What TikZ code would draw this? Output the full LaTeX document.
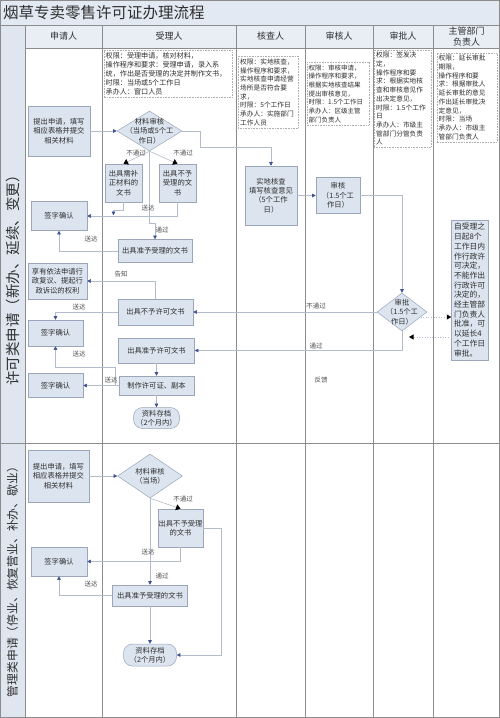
\documentclass[tikz,border=0pt]{standalone}
\usepackage{fontspec}
\setmainfont{Noto Sans CJK SC}
\usetikzlibrary{arrows.meta,positioning,calc,shapes.geometric}
\definecolor{lcink}{HTML}{2E2E2E}
\definecolor{lcgrid}{HTML}{8C8C8C}
\definecolor{lcband}{HTML}{E3E9F2}
\definecolor{lchead}{HTML}{E9EEF5}
\definecolor{lcside}{HTML}{DFE6F0}
\definecolor{lcbox}{HTML}{DCE4EF}
\definecolor{lcedge}{HTML}{9BA6BA}
\definecolor{lcwire}{HTML}{B3BCCB}
\definecolor{lctip}{HTML}{3F5291}
\tikzset{
  % lane grid of the sheet
  lc lane/.style={draw=lcgrid, line width=0.7pt},
  % ordinary hand-over arrows
  lc flow/.style={
    draw=lcwire, line width=0.6pt,
    -{Triangle[length=3.6pt,width=3.6pt,color=lctip]},
  },
  % refusal branches out of a check
  lc reject/.style={
    draw=lcwire, line width=0.6pt,
    -{Triangle[length=4.5pt,width=6pt,color=black]},
  },
  % asking the head of department and back
  lc ask/.style={
    draw=lcwire, line width=0.6pt, dotted,
    -{Triangle[length=4.5pt,width=5pt,color=black]},
  },
  % process steps
  lc proc/.style={
    draw=lcedge, line width=0.5pt, fill=lcbox, text=lcink,
    align=center, inner sep=0.5pt, font=\fontsize{7.3}{9.3}\selectfont,
  },
  lc store/.style={lc proc, rounded corners=9pt},
  lc check/.style={
    diamond, draw=lcedge, line width=0.5pt, fill=lcbox, inner sep=0pt,
  },
  lc inner/.style={text=lcink, align=center, inner sep=0pt,
    font=\fontsize{7.3}{9.3}\selectfont},
  % duty notes on top of each lane
  lc duty/.style={
    draw=lcgrid!70, line width=0.4pt, dash pattern=on 0.8pt off 0.8pt,
    fill=white, text=lcink, align=left, inner sep=2pt, anchor=north west,
    font=\fontsize{6.7}{8.7}\selectfont,
  },
  % small words on the arrows
  lc word/.style={text=lcink!85, inner sep=0.5pt,
    font=\fontsize{6.5}{8}\selectfont},
  lc hdr/.style={text=lcink, align=center,
    font=\fontsize{9}{11}\selectfont},
}

\begin{document}
\begin{tikzpicture}[x=1pt,y=-1pt]
  \useasboundingbox (0,0) rectangle (500,718);

  % ---- sheet, title and lanes ------------------------------------------------
  \fill[lcband] (0,0) rectangle (500,25);
  \fill[lchead] (25,25) rectangle (500,48);
  \fill[lcside] (0,25) rectangle (25,718);
  \draw[lc lane] (0.35,0.35) rectangle (499.65,717.65);
  \draw[lc lane] (0,25) -- (500,25);
  \draw[lc lane] (25,48) -- (500,48);
  \draw[lc lane] (0,443) -- (500,443);
  \foreach \x in {25,102,236,305,373,433}
    \draw[lc lane] (\x,25) -- (\x,718);

  \node[text=lcink,font=\fontsize{15.5}{18}\selectfont,anchor=west,inner sep=0pt]
    (title) at (3,12.5) {烟草专卖零售许可证办理流程};

  \foreach \x/\t [count=\i] in {63.5/申请人,169/受理人,270.5/核查人,
      339/审核人,403/审批人,466.5/{主管部门\\负责人}}
    \node[lc hdr] (hdr\i) at (\x,36.5) {\t};

  \node[text=lcink,font=\fontsize{14.5}{16}\selectfont,rotate=90,inner sep=0pt]
    (secPermit) at (12.5,277) {许可类申请（新办、延续、变更）};
  \node[text=lcink,font=\fontsize{11.8}{14}\selectfont,rotate=90,inner sep=0pt]
    (secManage) at (12.5,579) {管理类申请（停业、恢复营业、补办、歇业）};

  % ---- duties of each role ---------------------------------------------------
  \node[lc duty, text width=124pt, minimum height=45pt,
        font=\fontsize{7.1}{9.2}\selectfont] (dutyAccept) at (103.5,50)
    {权限：受理申请，核对材料，\\操作程序和要求：受理申请，录入系\\
     统，作出是否受理的决定并制作文书，\\时限：当场或5个工作日\\承办人：窗口人员};
  \node[lc duty, text width=56pt, minimum height=72pt] (dutyCheck) at (238,56)
    {权限：实地核查，\\操作程序和要求，\\实地核查申请经营\\场所是否符合要\\求，\\
     时限：5个工作日\\承办人：实施部门\\工作人员};
  \node[lc duty, text width=58pt, minimum height=63pt,
        font=\fontsize{6.5}{8.7}\selectfont] (dutyReview) at (306.5,62)
    {权限：审核申请，\\操作程序和要求，\\根据实地核查结果\\提出审核意见，\\
     时限：1.5个工作日\\承办人：区级主管\\部门负责人};
  \node[lc duty, text width=53pt, minimum height=97pt] (dutyApprove) at (374,50)
    {权限：签发决\\定，\\操作程序和要\\求：根据实地核\\查和审核意见作\\出决定意见，\\
     时限：1.5个工作\\日\\承办人：市级主\\管部门分管负责\\人};
  \node[lc duty, text width=56pt, minimum height=87pt] (dutyHead) at (436.5,53)
    {权限：延长审批\\期限，\\操作程序和要\\求：根据审批人\\延长审批的意见\\
     作出延长审批决\\定意见，\\时限：当场\\承办人：市级主\\管部门负责人};

  % ---- permit applications ---------------------------------------------------
  \node[lc proc, minimum width=62pt, minimum height=50pt] (apply1) at (59,131)
    {提出申请，填写\\相应表格并提交\\相关材料};
  \node[lc check, minimum width=65pt, minimum height=40pt,
        label={[lc inner]center:{材料审核\\（当场或5个工\\作日）}}]
    (check1) at (149.5,131) {};
  \node[lc proc, minimum width=37pt, minimum height=38pt] (fix1) at (123.5,183)
    {出具需补\\正材料的\\文书};
  \node[lc proc, minimum width=37pt, minimum height=38pt] (refuse1) at (177.5,183)
    {出具不予\\受理的文\\书};
  \node[lc proc, minimum width=56pt, minimum height=29pt] (sign1) at (59,216) {签字确认};
  \node[lc proc, minimum width=74pt, minimum height=23pt] (accept1) at (155,251)
    {出具准予受理的文书};
  \node[lc proc, minimum width=59pt, minimum height=36pt] (rights1) at (57.5,281)
    {享有依法申请行\\政复议、提起行\\政诉讼的权利};
  \node[lc proc, minimum width=75pt, minimum height=26pt] (deny1) at (155.5,312)
    {出具不予许可文书};
  \node[lc proc, minimum width=55pt, minimum height=26pt] (sign2) at (55.5,333) {签字确认};
  \node[lc proc, minimum width=76pt, minimum height=25pt] (grant1) at (156.5,350.5)
    {出具准予许可文书};
  \node[lc proc, minimum width=75pt, minimum height=19pt] (make1) at (156.5,385.5)
    {制作许可证、副本};
  \node[lc proc, minimum width=55pt, minimum height=24pt] (sign3) at (55.5,385.5) {签字确认};
  \node[lc store, minimum width=46pt, minimum height=21pt] (store1) at (156.5,418)
    {资料存档\\（2个月内）};

  \node[lc proc, minimum width=52pt, minimum height=59pt] (survey) at (271,195.5)
    {实地核查\\填写核查意见\\（5个工作\\日）};
  \node[lc proc, minimum width=44pt, minimum height=36pt] (review) at (338,195.5)
    {审核\\（1.5个工\\作日）};
  \node[lc check, minimum width=50pt, minimum height=38pt,
        label={[lc inner]center:{审批\\（1.5个工\\作日）}}]
    (approve) at (402,312) {};
  \node[lc proc, minimum width=37pt, minimum height=140pt, text width=32pt,
        align=left, font=\fontsize{7.8}{9.7}\selectfont] (extend) at (470,290)
    {自受理之\\日起8个\\工作日内\\作行政许\\可决定，\\不能作出\\行政许可\\
     决定的，\\经主管部\\门负责人\\批准，可\\以延长4\\个工作日\\审批。};

  \draw[lc flow] (apply1.east) -- (check1.west);
  \draw[lc flow] (check1.east) -- ++(18,0) -- ++(0,16) -| (survey.north);
  \draw[lc reject] (check1.south) -- (fix1.north);
  \draw[lc reject] (check1.south) -- (refuse1.north);
  \draw[lc flow] (fix1.south) -- ++(0,8) -| ++(-10,5);
  \draw[lc flow] (refuse1.south) |- (sign1.east);
  \draw[lc flow] (check1.south) -- ++(0,72) -| (accept1.north);
  \draw[lc flow] (accept1.west) -| (sign1.south);
  \draw[lc flow] (deny1.north) |- (rights1.east);
  \draw[lc flow] (deny1.west) -| (sign2.north);
  \draw[lc flow] (make1.west) -- ++(-3,0) |- ($(sign2.south)+(0,21)$) -- (sign2.south);
  \draw[lc flow] (make1.west) -- (sign3.east);
  \draw[lc flow] (grant1.south) -- (make1.north);
  \draw[lc flow] (make1.south) -- (store1.north);
  \draw[lc flow] (survey.east) -- (review.west);
  \draw[lc flow] (review.east) -| (approve.north);
  \draw[lc flow] (approve.west) -- (deny1.east);
  \draw[lc flow] (approve.south) |- (grant1.east);
  \draw[lc ask] (approve.345) -- (approve.345 -| extend.west);
  \coordinate (askback) at (409,337);
  \draw[lc ask] (extend.west |- askback) -- (askback);

  \node[lc word] (w1) at (136,153) {不通过};
  \node[lc word] (w2) at (183,153) {不通过};
  \node[lc word] (w3) at (148,208) {送达};
  \node[lc word] (w4) at (162,230) {通过};
  \node[lc word] (w5) at (91,239) {送达};
  \node[lc word] (w6) at (121,274) {告知};
  \node[lc word] (w7) at (79,307) {送达};
  \node[lc word] (w8) at (79,354) {送达};
  \node[lc word] (w9) at (111,380) {送达};
  \node[lc word] (w10) at (316,306) {不通过};
  \node[lc word] (w11) at (316,346) {通过};
  \node[lc word] (w12) at (321,380) {反馈};

  % ---- management applications -----------------------------------------------
  \node[lc proc, minimum width=61pt, minimum height=52pt] (apply2) at (58.5,476)
    {提出申请，填写\\相应表格并提交\\相关材料};
  \node[lc check, minimum width=65pt, minimum height=44pt,
        label={[lc inner]center:{材料审核\\（当场）}}]
    (check2) at (150,476) {};
  \node[lc proc, minimum width=45pt, minimum height=38pt] (refuse2) at (180.5,528)
    {出具不予受理\\的文书};
  \node[lc proc, minimum width=56pt, minimum height=29pt] (sign4) at (59,561.5) {签字确认};
  \node[lc proc, minimum width=75pt, minimum height=21pt] (accept2) at (150,595.5)
    {出具准予受理的文书};
  \node[lc store, minimum width=53pt, minimum height=22pt] (store2) at (150,655)
    {资料存档\\（2个月内）};

  \draw[lc flow] (apply2.east) -- (check2.west);
  \draw[lc reject] (check2.south) -- (refuse2.north);
  \draw[lc flow] (refuse2.south) |- (sign4.east);
  \draw[lc flow] (refuse2.east) -- ++(18,0) |- (store2.east);
  \draw[lc flow] (check2.south) -- (accept2.north);
  \draw[lc flow] (accept2.west) -| (sign4.south);
  \draw[lc flow] (accept2.south) -- (store2.north);

  \node[lc word] (w13) at (183,499) {不通过};
  \node[lc word] (w14) at (148,552) {送达};
  \node[lc word] (w15) at (162,576) {通过};
  \node[lc word] (w16) at (91,584) {送达};

\end{tikzpicture}
\end{document}
